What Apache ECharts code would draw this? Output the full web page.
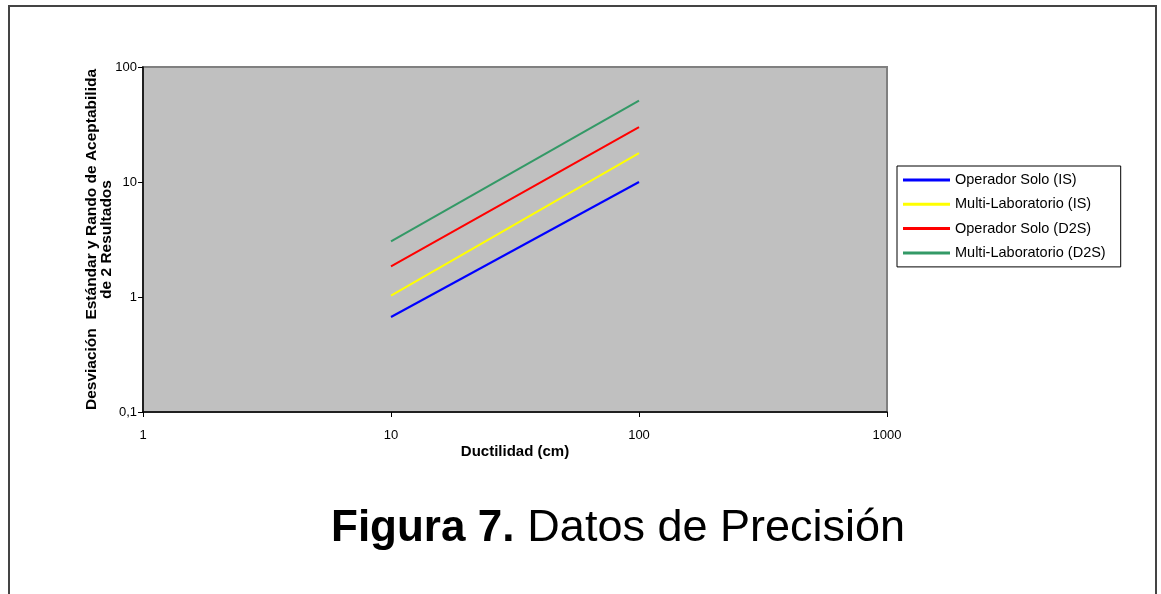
<!DOCTYPE html>
<html>
<head>
<meta charset="utf-8">
<script src="https://cdn.jsdelivr.net/npm/echarts@6/dist/echarts.min.js"></script>
<style>
  html, body { margin: 0; padding: 0; background: #fff; }
  #frame {
    position: absolute; left: 8px; top: 5px; width: 1149px; height: 600px;
    border: 2px solid #444; border-bottom: none; box-sizing: border-box;
  }
  #chart { position: absolute; left: 0; top: 0; width: 1161px; height: 594px; }
</style>
</head>
<body>
<div id="frame"></div>
<div id="chart"></div>
<script>
// Ductilidad (cm)
const ductilidad = [10, 100]

// valores
const operadorSoloIS = [0.67, 10]
const multiLabIS = [1.03, 17.8]
const operadorSoloD2S = [1.85, 30]
const multiLabD2S = [3.05, 51]

const seriesNames = [
  'Operador Solo (IS)',
  'Multi-Laboratorio (IS)',
  'Operador Solo (D2S)',
  'Multi-Laboratorio (D2S)'
]
const seriesColors = ['#0000FF', '#FFFF00', '#FF0000', '#339966']
const seriesValues = [operadorSoloIS, multiLabIS, operadorSoloD2S, multiLabD2S]

const font = 'Arial, "Liberation Sans", sans-serif'

const chart = echarts.init(document.getElementById('chart'))

const series = seriesValues.map((vals, i) => ({
  name: seriesNames[i],
  type: 'line',
  data: vals.map((v, j) => [ductilidad[j], v]),
  showSymbol: false,
  symbol: 'none',
  lineStyle: { color: seriesColors[i], width: 2 },
  itemStyle: { color: seriesColors[i] },
  z: 3 + (seriesValues.length - i)
}))

const option = {
  animation: false,
  textStyle: { fontFamily: font },
  title: {
    text: '{b|Figura 7.}{n|Datos de Precisión}',
    left: 326,
    top: 501,
    textStyle: {
      rich: {
        b: { fontFamily: font, fontSize: 44, fontWeight: 'bold', color: '#000' },
        n: { fontFamily: font, fontSize: 45, fontWeight: 'normal', color: '#000', padding: [0, 0, 0, 13] }
      }
    }
  },
  legend: {
    orient: 'vertical',
    left: 897,
    top: 166,
    data: seriesNames,
    icon: 'rect',
    itemWidth: 47,
    itemHeight: 3,
    itemGap: 7.3,
    padding: [5.5, 15, 5.5, 6],
    borderColor: '#000',
    borderWidth: 1,
    backgroundColor: '#fff',
    textStyle: { fontFamily: font, fontSize: 14.5, lineHeight: 17, color: '#000' }
  },
  grid: {
    left: 143,
    right: 274,
    top: 67,
    bottom: 182,
    show: true,
    backgroundColor: '#C0C0C0',
    borderColor: '#808080',
    borderWidth: 2
  },
  xAxis: {
    type: 'log',
    logBase: 10,
    min: 1,
    max: 1000,
    name: 'Ductilidad (cm)',
    nameLocation: 'middle',
    nameGap: 32.5,
    nameMoveOverlap: false,
    nameTextStyle: { fontFamily: font, fontSize: 15, fontWeight: 'bold', color: '#000' },
    axisLine: { lineStyle: { color: '#000', width: 1.5 } },
    axisTick: { show: true, length: 5, lineStyle: { color: '#000' } },
    minorTick: { show: false },
    splitLine: { show: false },
    axisLabel: { fontFamily: font, fontSize: 13, color: '#000', margin: 17, formatter: v => String(v) }
  },
  yAxis: {
    type: 'log',
    logBase: 10,
    min: 0.1,
    max: 100,
    name: 'Desviación  Estándar y Rando de Aceptabilida\nde 2 Resultados',
    nameLocation: 'middle',
    nameRotate: 90,
    nameGap: 28.5,
    nameMoveOverlap: false,
    nameTextStyle: { fontFamily: font, fontSize: 15.5, fontWeight: 'bold', color: '#000', lineHeight: 15 },
    axisLine: { lineStyle: { color: '#000', width: 1.5 } },
    axisTick: { show: true, length: 5, lineStyle: { color: '#000' } },
    splitLine: { show: false },
    axisLabel: {
      fontFamily: font, fontSize: 13, color: '#000', margin: 6,
      formatter: v => String(v).replace('.', ',')
    }
  },
  series: series
}

chart.setOption(option)
</script>
</body>
</html>
